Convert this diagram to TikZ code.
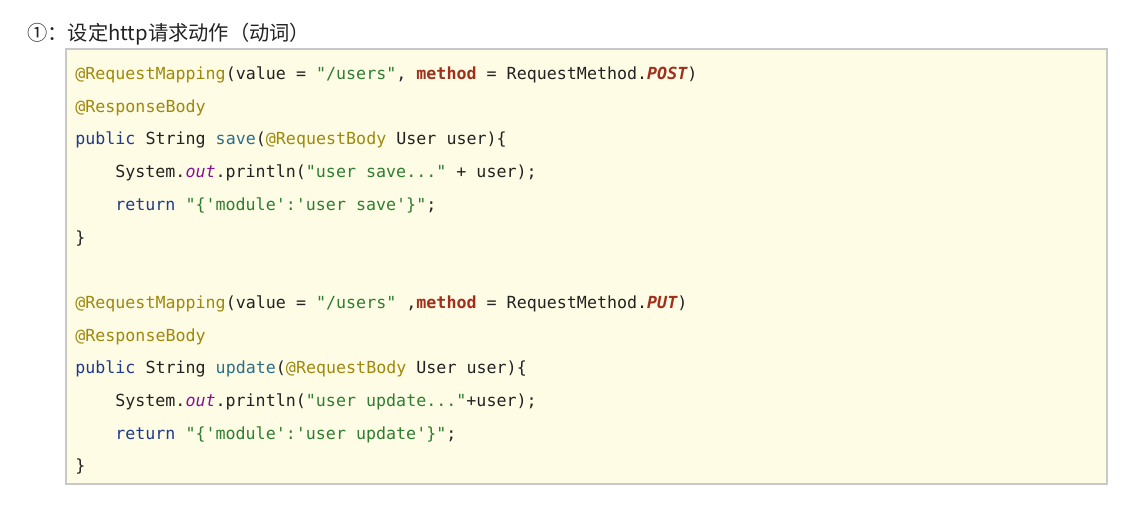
\documentclass[tikz,border=0pt]{standalone}
\usepackage{fontspec}
\setmonofont{DejaVu Sans Mono}
\newfontfamily\cjk{Noto Sans CJK SC}
\usetikzlibrary{positioning}
\definecolor{boxfill}{HTML}{FEFCE4}
\definecolor{boxline}{HTML}{C8C8C8}
\definecolor{anncol}{HTML}{9E880D}
\definecolor{kwcol}{HTML}{1F3A8A}
\definecolor{funcol}{HTML}{2A6F8A}
\definecolor{strcol}{HTML}{2E7D32}
\definecolor{attcol}{HTML}{A0301C}
\definecolor{fldcol}{HTML}{871094}
\definecolor{txtcol}{HTML}{222222}
\newcommand{\jann}[1]{\textcolor{anncol}{#1}}
\newcommand{\jkw}[1]{\textcolor{kwcol}{#1}}
\newcommand{\jfun}[1]{\textcolor{funcol}{#1}}
\newcommand{\jstr}[1]{\textcolor{strcol}{#1}}
\newcommand{\jatt}[1]{\textcolor{attcol}{\bfseries #1}}
\newcommand{\jcon}[1]{\textcolor{attcol}{\bfseries\itshape #1}}
\newcommand{\jfld}[1]{\textcolor{fldcol}{\itshape #1}}
\begin{document}
\begin{tikzpicture}[x=0.75pt,y=-0.75pt,
  code/.style={anchor=base west,inner sep=0pt,text=txtcol,font=\ttfamily\fontsize{12.5}{15}\selectfont}]
  \useasboundingbox (0,0) rectangle (1121,508);
  \node[anchor=base west,inner sep=0pt,text=txtcol,font=\cjk\fontsize{15.2}{18}\selectfont](title) at (27,40) {①：设定http请求动作（动词）};
  \draw[fill=boxfill,draw=boxline,line width=1.2pt] (66,49) rectangle (1107,484);
  \node[code](l1) at (75,79.5) {\jann{@RequestMapping}(value = \jstr{"/users"}, \jatt{method} = RequestMethod.\jcon{POST})};
  \node[code](l2) at (75,112.2) {\jann{@ResponseBody}};
  \node[code](l3) at (75,144.9) {\jkw{public} String \jfun{save}(\jann{@RequestBody} User user)\{};
  \node[code](l4) at (115,177.6) {System.\jfld{out}.println(\jstr{"user save..."} + user);};
  \node[code](l5) at (115,210.3) {\jkw{return} \jstr{"\{'module':'user save'\}"};};
  \node[code](l6) at (75,243) {\}};
  \node[code](l8) at (75,308.4) {\jann{@RequestMapping}(value = \jstr{"/users"} ,\jatt{method} = RequestMethod.\jcon{PUT})};
  \node[code](l9) at (75,341.1) {\jann{@ResponseBody}};
  \node[code](l10) at (75,373.8) {\jkw{public} String \jfun{update}(\jann{@RequestBody} User user)\{};
  \node[code](l11) at (115,406.5) {System.\jfld{out}.println(\jstr{"user update..."}+user);};
  \node[code](l12) at (115,439.2) {\jkw{return} \jstr{"\{'module':'user update'\}"};};
  \node[code](l13) at (75,471.9) {\}};
\end{tikzpicture}
\end{document}
